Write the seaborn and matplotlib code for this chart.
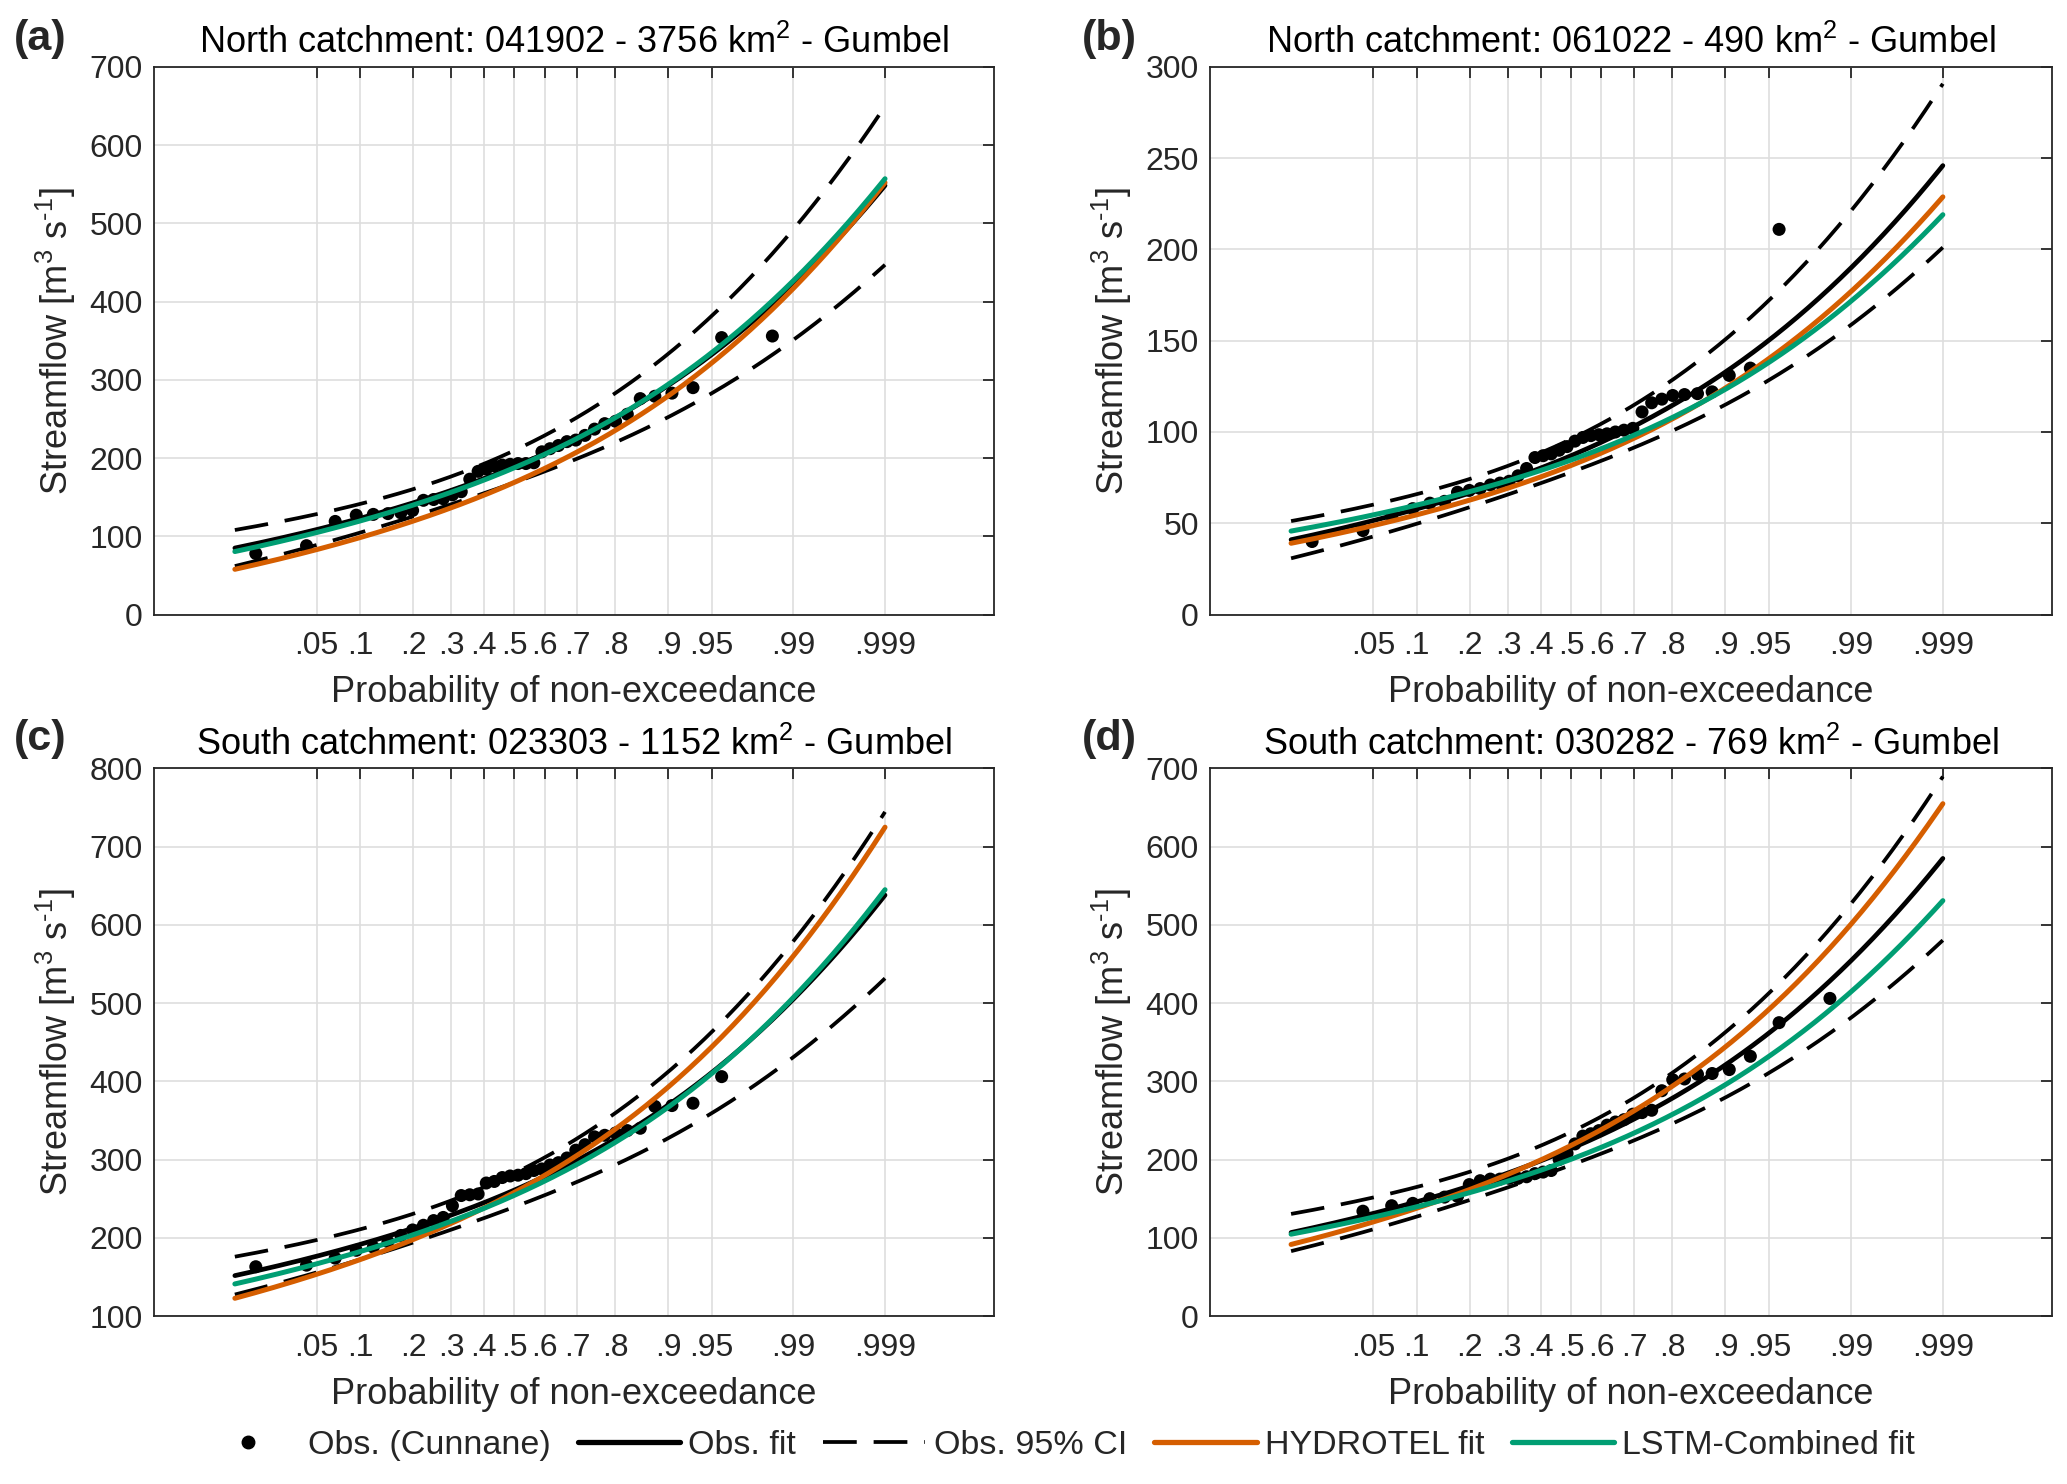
import numpy as np
import pandas as pd
import matplotlib
matplotlib.use("Agg")
import matplotlib.pyplot as plt
import seaborn as sns
from statistics import NormalDist
from matplotlib.lines import Line2D

# panel text
panel_tags = ['(a)', '(b)', '(c)', '(d)']
titles = ['North catchment: 041902 - 3756 km$^2$ - Gumbel',
          'North catchment: 061022 - 490 km$^2$ - Gumbel',
          'South catchment: 023303 - 1152 km$^2$ - Gumbel',
          'South catchment: 030282 - 769 km$^2$ - Gumbel']
ylims = [(0, 700), (0, 300), (100, 800), (0, 700)]
ysteps = [100, 50, 100, 100]

prob_ticks = [.05, .1, .2, .3, .4, .5, .6, .7, .8, .9, .95, .99, .999]
prob_labels = ['.05', '.1', '.2', '.3', '.4', '.5', '.6', '.7', '.8', '.9', '.95', '.99', '.999']

# record length (Cunnane plotting positions) and rank of the first visible point
n_years = [38, 38, 38, 38]
first_rank = [1, 1, 1, 2]

# sorted annual maxima visible on each panel (m3/s)
obs_a = [78, 88, 119, 127, 128, 129, 130, 133, 146, 147, 148, 153, 157, 173, 183, 186, 190, 191,
         192, 193, 193, 194, 208, 212, 216, 221, 223, 229, 237, 244, 247, 256, 276, 279, 283, 290,
         354, 356]
obs_b = [40, 46, 54, 58, 61, 62, 67, 68, 69, 71, 72, 73, 76, 80, 86, 87, 88, 90, 92, 95, 97, 98,
         98.5, 99, 100, 101, 102, 111, 116, 118, 120, 120.5, 121, 122, 131, 135, 211]
obs_c = [163, 165, 174, 184, 188, 195, 203, 210, 216, 222, 226, 241, 254, 255, 256, 270, 272, 277,
         279, 280, 282, 286, 288, 293, 296, 302, 312, 319, 329, 331, 334, 337, 340, 368, 369, 372,
         406]
obs_d = [134, 141, 144, 150, 152, 153, 168, 173, 175, 175, 176, 176, 178, 182, 184, 186, 200,
         208, 220, 230, 233, 237, 244, 248, 251, 258, 260, 263, 288, 302, 303, 309, 310, 315, 332,
         375, 406]
obs_values = [obs_a, obs_b, obs_c, obs_d]

# Gumbel parameters (location, scale) of the three fits
obs_mu = [168.9, 78.1, 239.7, 193.3]
obs_beta = [54.95, 24.3, 57.67, 56.7]
hyd_mu = [147.3, 73.4, 231.7, 193.5]
hyd_beta = [58.6, 22.5, 71.4, 66.8]
lstm_mu = [166.8, 77.1, 232.25, 181.8]
lstm_beta = [56.5, 20.55, 59.75, 50.55]

ORANGE = '#D55E00'
GREEN = '#009E73'
DARK = '#262626'
DASH = (0, (9, 4.5))

sns.set_theme(style='white')
plt.rcParams['font.family'] = ['Liberation Sans', 'DejaVu Sans']
plt.rcParams['mathtext.fontset'] = 'custom'
plt.rcParams['mathtext.rm'] = 'Liberation Sans'
plt.rcParams['mathtext.it'] = 'Liberation Sans:italic'

nd = NormalDist()


def gumbel_q(p, mu, beta):
    return mu - beta * np.log(-np.log(p))


fig = plt.figure(figsize=(20.67, 14.84), dpi=100)
positions = [(0.0745, 0.5859, 0.4065, 0.369), (0.5854, 0.5859, 0.4075, 0.369),
             (0.0745, 0.1132, 0.4065, 0.369), (0.5854, 0.1132, 0.4075, 0.369)]
tag_xy = [(0.0068, 0.974), (0.5235, 0.974), (0.0068, 0.502), (0.5235, 0.502)]

z_curve = np.linspace(nd.inv_cdf(0.01), nd.inv_cdf(0.999), 300)
p_curve = np.array([nd.cdf(z) for z in z_curve])

for k in range(4):
    ax = fig.add_axes(positions[k])
    n = n_years[k]
    vals = obs_values[k]
    ranks = range(first_rank[k], first_rank[k] + len(vals))
    pp = [(i - 0.4) / (n + 0.2) for i in ranks]
    df_obs = pd.DataFrame({'z': [nd.inv_cdf(p) for p in pp], 'q': vals})

    q_fit = gumbel_q(p_curve, obs_mu[k], obs_beta[k])
    yv = -np.log(-np.log(p_curve))
    se = obs_beta[k] * np.sqrt((1.1087 + 0.5140 * yv + 0.6079 * yv ** 2) / n)
    curves = pd.DataFrame({
        'z': z_curve,
        'fit': q_fit,
        'lo': q_fit - 1.96 * se,
        'hi': q_fit + 1.96 * se,
        'hyd': gumbel_q(p_curve, hyd_mu[k], hyd_beta[k]),
        'lstm': gumbel_q(p_curve, lstm_mu[k], lstm_beta[k]),
    })

    sns.scatterplot(data=df_obs, x='z', y='q', ax=ax, color='black', s=88,
                    edgecolor='none', zorder=2, legend=False)
    sns.lineplot(data=curves, x='z', y='fit', ax=ax, color='black', lw=3.4, zorder=3)
    for col in ['lo', 'hi']:
        sns.lineplot(data=curves, x='z', y=col, ax=ax, color='black', lw=2.7,
                     linestyle=DASH, zorder=3)
    sns.lineplot(data=curves, x='z', y='hyd', ax=ax, color=ORANGE, lw=3.6, zorder=4)
    sns.lineplot(data=curves, x='z', y='lstm', ax=ax, color=GREEN, lw=3.6, zorder=5)

    ax.set_xlim(-3, 4)
    ax.set_ylim(*ylims[k])
    ax.set_xticks([nd.inv_cdf(p) for p in prob_ticks])
    ax.set_xticklabels(prob_labels)
    ax.set_yticks(np.arange(ylims[k][0], ylims[k][1] + 1, ysteps[k]))
    ax.grid(True, color='#dedede', lw=1.2)
    ax.set_axisbelow(True)
    ax.tick_params(axis='both', direction='in', top=True, right=True, length=8, width=1.3,
                   colors=DARK, labelsize=23)
    ax.tick_params(axis='x', pad=12)
    ax.tick_params(axis='y', pad=8)
    for sp in ax.spines.values():
        sp.set_color(DARK)
        sp.set_linewidth(1.3)
    ax.set_xlabel('Probability of non-exceedance', fontsize=26, color=DARK, labelpad=10)
    ax.set_ylabel('Streamflow [m$^3$ s$^{\\text{-}1}$]', fontsize=26, color=DARK, labelpad=8)
    ax.set_title(titles[k], fontsize=26, color='black', pad=10)
    fig.text(tag_xy[k][0], tag_xy[k][1], panel_tags[k], fontsize=31, fontweight='bold',
             ha='left', va='center')

handles = [Line2D([], [], marker='o', ls='none', color='black', markersize=9),
           Line2D([], [], color='black', lw=3.8),
           Line2D([], [], color='black', lw=2.7, linestyle=DASH),
           Line2D([], [], color=ORANGE, lw=3.8),
           Line2D([], [], color=GREEN, lw=3.8)]
labels = ['Obs. (Cunnane)', 'Obs. fit', 'Obs. 95% CI', 'HYDROTEL fit', 'LSTM-Combined fit']
fig.legend(handles, labels, loc='center', bbox_to_anchor=(0.511, 0.026), ncol=5,
           frameon=False, fontsize=24.5, handlelength=3.0, handletextpad=0.25,
           columnspacing=0.8)

fig.savefig('out.png', dpi=100)
